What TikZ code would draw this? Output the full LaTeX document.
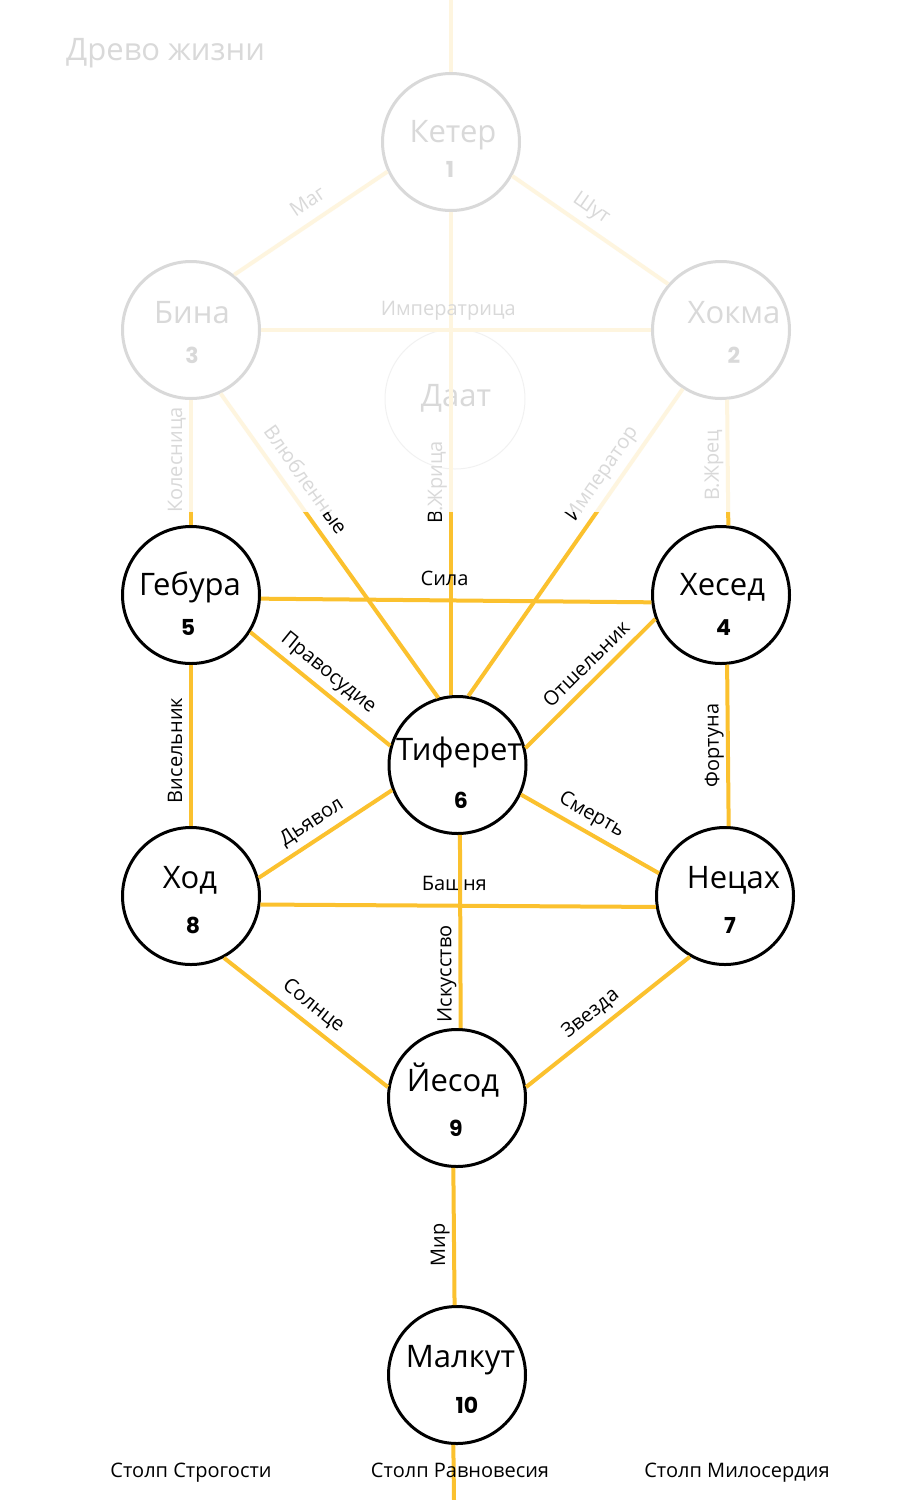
\documentclass[tikz,border=0pt]{standalone}
\usepackage{fontspec}
\setmainfont{Open Sans}
\newfontfamily\numfont{Poppins}
\usetikzlibrary{calc}
\definecolor{pathc}{HTML}{FBC12E}
\begin{document}
\begin{tikzpicture}[x=1pt,y=-1pt,
  sephira/.style={circle, draw=black, line width=3pt, fill=white, minimum size=137pt, inner sep=0pt},
  daatc/.style={circle, draw=black!35, line width=1pt, minimum size=140pt, inner sep=0pt},
  sname/.style={font=\fontsize{31}{33}\selectfont, anchor=base, inner sep=0pt},
  snum/.style={font=\numfont\bfseries\fontsize{22}{24}\selectfont, anchor=base, inner sep=0pt},
  conn/.style={draw=pathc, line width=4pt},
  labbase/.style={font=\fontsize{20}{22}\selectfont, sloped, inner sep=0pt, text depth=0pt},
  labh/.style={labbase, above=13pt},
  labv/.style={labbase, allow upside down, above=7pt},
  labd/.style={labbase, above=10pt},
  labdn/.style={labbase, above=8pt},
  labdw/.style={labbase, above=11pt},
  pillar/.style={font=\fontsize{20}{22}\selectfont, anchor=base, inner sep=0pt},
  title/.style={font=\fontsize{31}{33}\selectfont, anchor=base west, inner sep=0pt}
]
\useasboundingbox (0,0) rectangle (900,1500);
\fill[white] (0,0) rectangle (900,1500);

\node[title] (ttl) at (66,60) {Древо жизни};

% sephirot
\node[sephira] (kether) at (451,142) {};
\node[sephira] (bina) at (191,330) {};
\node[sephira] (hokma) at (721,330) {};
\node[daatc] (daat) at (455,399) {};
\node[sephira] (geb) at (191,595) {};
\node[sephira] (hes) at (721,595) {};
\node[sephira] (tif) at (457.5,765) {};
\node[sephira] (hod) at (191,896) {};
\node[sephira] (netz) at (725,896) {};
\node[sephira] (yes) at (457,1098) {};
\node[sephira] (malk) at (457,1375) {};

\coordinate (top) at (451,0);
\coordinate (bot) at (454,1500);

% names and numbers
\node[sname] (kether-n) at ($(kether)+(2,0)$) {Кетер};
\node[snum] (kether-d) at ($(kether)+(-1,35)$) {1};
\node[sname] (bina-n) at ($(bina)+(1,-7)$) {Бина};
\node[snum] (bina-d) at ($(bina)+(1,33)$) {3};
\node[sname] (hokma-n) at ($(hokma)+(13,-7)$) {Хокма};
\node[snum] (hokma-d) at ($(hokma)+(13,33)$) {2};
\node[sname] (daat-n) at ($(daat)+(1,7)$) {Даат};
\node[sname] (geb-n) at ($(geb)+(-1,0)$) {Гебура};
\node[snum] (geb-d) at ($(geb)+(-3,40)$) {5};
\node[sname] (hes-n) at ($(hes)+(1.5,0)$) {Хесед};
\node[snum] (hes-d) at ($(hes)+(2.5,40)$) {4};
\node[sname] (tif-n) at ($(tif)+(1.5,-5)$) {Тиферет};
\node[snum] (tif-d) at ($(tif)+(3.5,43)$) {6};
\node[sname] (hod-n) at ($(hod)+(-1,-8)$) {Ход};
\node[snum] (hod-d) at ($(hod)+(2,37)$) {8};
\node[sname] (netz-n) at ($(netz)+(8.5,-8)$) {Нецах};
\node[snum] (netz-d) at ($(netz)+(5,37)$) {7};
\node[sname] (yes-n) at ($(yes)+(-4,-7)$) {Йесод};
\node[snum] (yes-d) at ($(yes)+(-1,38)$) {9};
\node[sname] (malk-n) at ($(malk)+(3.5,-8)$) {Малкут};
\node[snum] (malk-d) at ($(malk)+(10,38)$) {10};

% paths
\draw[conn] (top) -- (kether.north);
\draw[conn] (kether.205) -- node[labdw,pos=0.45] {Маг} (bina.52);
\draw[conn] (kether.331) -- node[labdw,pos=0.44] {Шут} (hokma.139);
\draw[conn] (kether.south |- tif.north) -- node[labv,pos=0.44] {В.Жрица} (kether.south);
\draw[conn] (bina.east) -- node[labh,pos=0.48] {Императрица} (hokma.west);
\draw[conn] (geb.north) -- node[labv,pos=0.52] {Колесница} (bina.south);
\draw[conn] (bina.295) -- node[labd,pos=0.32] {Влюбленные} (tif.106);
\draw[conn] (hokma.237.7) -- node[labd,pos=0.31] {Император} (tif.81.6);
\draw[conn] (hes.84.3) -- node[labv,pos=0.48] {В.Жрец} (hokma.275.7);
\draw[conn] (geb.357) -- node[labh,pos=0.47] {Сила} (hes.186);
\draw[conn] (geb.328) -- node[labd,pos=0.48] {Правосудие} (tif.164.6);
\draw[conn] (hes.200.7) -- node[labdn,pos=0.44] {Отшельник} (tif.14.4);
\draw[conn] (hod.north) -- node[labv,pos=0.47] {Висельник} (geb.south);
\draw[conn] (netz.87.5) -- node[labv,pos=0.5] {Фортуна} (hes.275.7);
\draw[conn] (tif.201.8) -- node[labd,pos=0.53] {Дьявол} (hod.15.4);
\draw[conn] (tif.335.4) -- node[labd,pos=0.45] {Смерть} (netz.161.3);
\draw[conn] (hod.353.5) -- node[labh,pos=0.49] {Башня} (netz.189);
\draw[conn] (yes.87.5) -- node[labv,pos=0.28] {Искусство} (tif.272);
\draw[conn] (hod.298) -- node[labd,pos=0.48] {Солнце} (yes.171.9);
\draw[conn] (netz.240.5) -- node[labd,pos=0.54] {Звезда} (yes.9.7);
\draw[conn] (malk.92.5) -- node[labv,pos=0.44] {Мир} (yes.267.5);
\draw[conn] (bot) -- (malk.267.5);

% pillars
\node[pillar] (p1) at (191,1477) {Столп Строгости};
\node[pillar] (p2) at (460,1477) {Столп Равновесия};
\node[pillar] (p3) at (737,1477) {Столп Милосердия};

% fading veil over the upper part
\fill[white, opacity=0.85] (0,0) rectangle (900,512);
\end{tikzpicture}
\end{document}
